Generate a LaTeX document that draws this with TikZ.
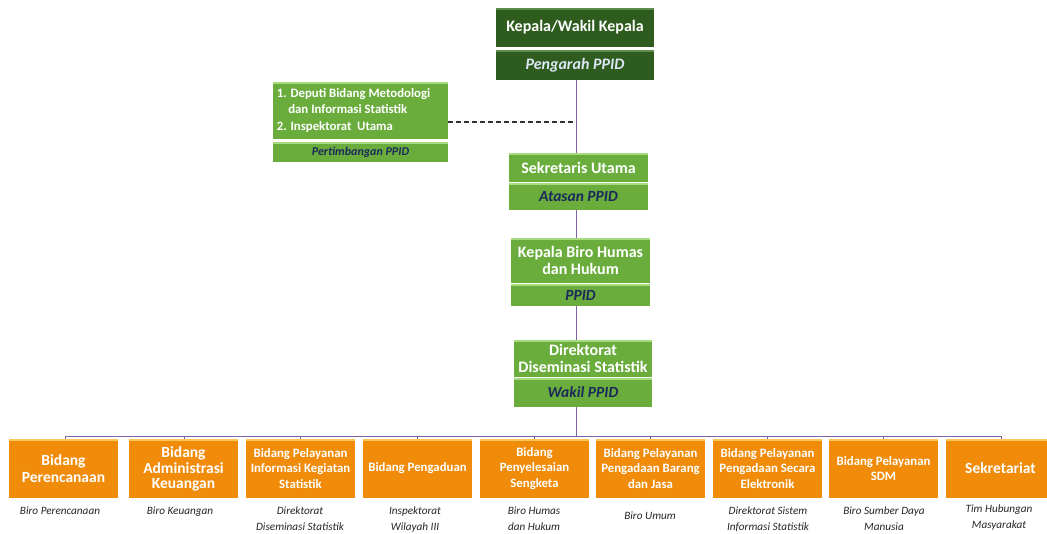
\documentclass[tikz,border=0pt]{standalone}
\usepackage{fontspec}
\setmainfont{Carlito}
\definecolor{dgreen}{HTML}{2E5C1E}
\definecolor{dgreenhi}{HTML}{5E8C4A}
\definecolor{mgreen}{HTML}{6AAD3D}
\definecolor{mgreenhi}{HTML}{A6DC7E}
\definecolor{orng}{HTML}{F08C0A}
\definecolor{orngHi}{HTML}{FFC65A}
\definecolor{navy}{HTML}{1B2A5A}
\definecolor{conn}{HTML}{8064A2}
\definecolor{pale}{HTML}{DCE6F4}
\tikzset{
  box/.style={inner sep=0pt, outer sep=0pt, anchor=north west, align=center,
    path picture={\fill[#1] (path picture bounding box.north west) rectangle ([yshift=-2.2pt]path picture bounding box.north east);}},
  dtop/.style={box=dgreenhi, fill=dgreen, text=white, font=\fontsize{16}{17}\selectfont\bfseries},
  dbot/.style={box=dgreenhi, fill=dgreen, text=pale, font=\fontsize{16}{17}\selectfont\bfseries\itshape},
  gtop/.style={box=mgreenhi, fill=mgreen, text=white, font=\fontsize{16}{17}\selectfont\bfseries},
  gbot/.style={box=mgreenhi, fill=mgreen, text=navy, font=\fontsize{15.5}{17}\selectfont\bfseries\itshape},
  obox/.style={box=orngHi, fill=orng, text=white, minimum width=109, minimum height=59, font=\fontsize{12.8}{15.5}\selectfont\bfseries},
  big/.style={font=\fontsize{15.5}{16.5}\selectfont\bfseries},
  sub/.style={anchor=north, align=center, inner sep=0pt, text=black!85, font=\fontsize{11.2}{15.5}\selectfont\itshape},
  line/.style={draw=conn, line width=1pt},
}
\begin{document}
\begin{tikzpicture}[x=1pt, y=-1pt]
\useasboundingbox[fill=white] (0,0) rectangle (1047,533);
\coordinate (spine) at (576,0);
\coordinate (bus) at (576,436);
\coordinate (dj) at (576,122);

% top box
\node[dtop, minimum width=158, minimum height=39] (kT) at (496,8) {Kepala/Wakil Kepala};
\node[dbot, minimum width=158, minimum height=30] (kB) at (496,50) {Pengarah PPID};

% left box
\node[box=mgreenhi, fill=mgreen, text=white, minimum width=175, minimum height=57, align=left,
      font=\fontsize{12.8}{16.5}\selectfont\bfseries] (dT) at (273,82)
  {\begin{tabular}{@{}l@{}}1. Deputi Bidang Metodologi\\\hspace{0.9em}dan Informasi Statistik\\2. Inspektorat~~Utama\end{tabular}\hspace*{14pt}};
\node[gbot, minimum width=175, minimum height=20, font=\fontsize{12}{13}\selectfont\bfseries\itshape] (dB) at (273,142) {Pertimbangan PPID};

% Sekretaris Utama
\node[gtop, minimum width=139, minimum height=29] (sT) at (509,153) {Sekretaris Utama};
\node[gbot, minimum width=139, minimum height=27] (sB) at (509,183) {Atasan PPID};

% Kepala Biro Humas
\node[gtop, minimum width=139, minimum height=45] (hT) at (511,238) {Kepala Biro Humas\\dan Hukum};
\node[gbot, minimum width=139, minimum height=22] (hB) at (511,284) {PPID};

% Direktorat
\node[gtop, minimum width=138, minimum height=37] (wT) at (514,340) {Direktorat\\Diseminasi Statistik};
\node[gbot, minimum width=138, minimum height=29] (wB) at (514,378) {Wakil PPID};

% connectors
\draw[line] (kB.south -| spine) -- (sT.north -| spine);
\draw[line] (sB.south -| spine) -- (hT.north -| spine);
\draw[line] (hB.south -| spine) -- (wT.north -| spine);
\draw[line] (wB.south -| spine) -- (bus);
\draw[dash pattern=on 5pt off 3pt, line width=1.1pt, black!80] (dj -| dT.east) -- (dj);

% orange boxes
\node[obox, big] (o1) at (9,439) {Bidang\\Perencanaan};
\node[obox, big] (o2) at (129,439) {Bidang\\Administrasi\\[-2pt]Keuangan};
\node[obox] (o3) at (246,439) {Bidang Pelayanan\\Informasi Kegiatan\\Statistik};
\node[obox] (o4) at (363,439) {Bidang Pengaduan};
\node[obox] (o5) at (480,439) {Bidang\\Penyelesaian\\Sengketa};
\node[obox] (o6) at (596,439) {Bidang Pelayanan\\Pengadaan Barang\\dan Jasa};
\node[obox] (o7) at (713,439) {Bidang Pelayanan\\Pengadaan Secara\\Elektronik};
\node[obox] (o8) at (829,439) {Bidang Pelayanan\\SDM};
\node[obox, big, minimum width=101] (o9) at (946,439) {\hspace*{8pt}Sekretariat};

\coordinate (busL) at (65,436);
\coordinate (busR) at (1001,436);
\draw[line, line width=0.8pt] (busL) -- (busR);
\foreach \i/\xx in {1/65,2/184,3/300,4/417,5/534,6/650,7/767,8/883,9/1001}{
  \draw[line, line width=0.8pt] (o\i.north -| \xx,0) -- (\xx,436);
}

% sub labels
\node[sub] (l1) at (60,507) {Biro Perencanaan};
\node[sub] (l2) at (180,507) {Biro Keuangan};
\node[sub] (l3) at (300,507) {Direktorat\\Diseminasi Statistik};
\node[sub] (l4) at (415,507) {Inspektorat\\Wilayah III};
\node[sub] (l5) at (534,507) {Biro Humas\\dan Hukum};
\node[sub] (l6) at (650,512) {Biro Umum};
\node[sub] (l7) at (768,507) {Direktorat Sistem\\Informasi Statistik};
\node[sub] (l8) at (884,507) {Biro Sumber Daya\\Manusia};
\node[sub] (l9) at (999,505) {Tim Hubungan\\Masyarakat};
\end{tikzpicture}
\end{document}
